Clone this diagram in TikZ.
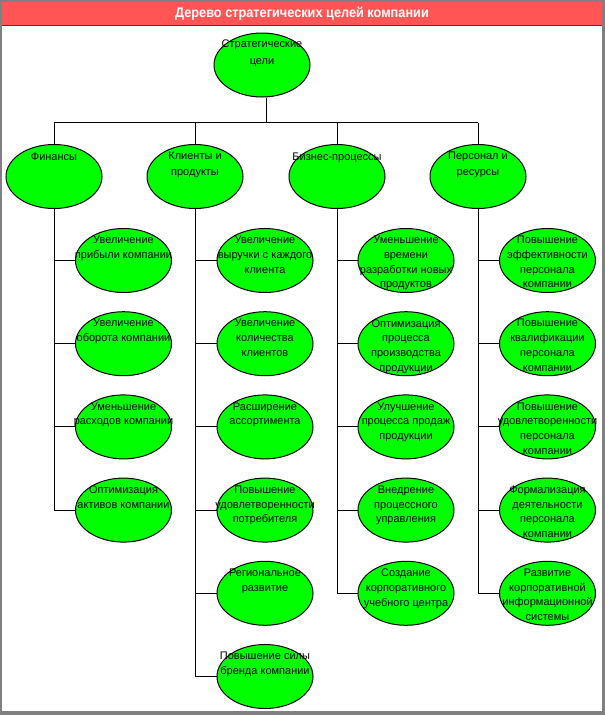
\documentclass[tikz,border=0pt]{standalone}
\usepackage{fontspec}
\setmainfont{Liberation Sans}
\newfontfamily\titlefont[FakeStretch=0.91]{Liberation Sans}
\usetikzlibrary{shapes.geometric,calc}
\definecolor{goalgreen}{HTML}{00FF00}
\definecolor{titlered}{HTML}{FF5555}
\definecolor{framegray}{HTML}{808080}
\definecolor{bardark}{HTML}{404040}
\pgfdeclarelayer{background}
\pgfsetlayers{background,main}
\tikzset{
  goal/.style={ellipse, draw=black, line width=1pt, fill=goalgreen,
    minimum width=96pt, minimum height=64pt, inner sep=0pt},
  goaltext/.style={anchor=north, inner sep=0pt, align=center,
    font=\fontsize{11}{14.7}\selectfont, execute at begin node=\rule{0pt}{8.5pt}},
  headtext/.style={goaltext, font=\fontsize{11}{16.5}\selectfont},
  link/.style={draw=black, line width=1pt},
  titletext/.style={text=white, inner sep=0pt,
    font=\titlefont\bfseries\fontsize{14}{16}\selectfont},
}
\newcommand\goalnode[4]{%
  \node[goal] (#1) at (#2,#3) {};
  \node[goaltext] (#1t) at ($(#1)+(0,-24.5)$) {#4};}
\newcommand\headnode[4]{%
  \node[goal] (#1) at (#2,#3) {};
  \node[headtext] (#1t) at ($(#1)+(0,-25)$) {#4};}
\begin{document}
\begin{tikzpicture}[x=1pt,y=-1pt]
\useasboundingbox (0,0) rectangle (605,715);
\begin{pgfonlayer}{background}
  \fill[framegray] (0,0) rectangle (605,715);
  \fill[white] (2,2) rectangle (602,711);
  \fill[titlered] (2,2) rectangle (602,25);
  \draw[bardark, line width=1pt] (2,25.5) -- (602,25.5);
\end{pgfonlayer}
\node[titletext] (title) at (302,13.5) {Дерево стратегических целей компании};

\headnode{top}{262}{65}{Стратегические\\цели}
\headnode{h1}{54}{176.5}{Финансы}
\headnode{h2}{195}{176.5}{Клиенты и\\продукты}
\headnode{h3}{337}{176.5}{Бизнес-процессы}
\headnode{h4}{478}{176.5}{Персонал и\\ресурсы}

% Finance
\goalnode{f1}{123.5}{260.5}{Увеличение\\прибыли компании}
\goalnode{f2}{123.5}{343.7}{Увеличение\\оборота компании}
\goalnode{f3}{123.5}{426.9}{Уменьшение\\расходов компании}
\goalnode{f4}{123.5}{510.1}{Оптимизация\\активов компании}
% Clients
\goalnode{c1}{265}{260.5}{Увеличение\\выручки с каждого\\клиента}
\goalnode{c2}{265}{343.7}{Увеличение\\количества\\клиентов}
\goalnode{c3}{265}{426.9}{Расширение\\ассортимента}
\goalnode{c4}{265}{510.1}{Повышение\\удовлетворенности\\потребителя}
\goalnode{c5}{265}{593.3}{Региональное\\развитие}
\goalnode{c6}{265}{676.5}{Повышение силы\\бренда компании}
% Business processes
\goalnode{b1}{406}{260.5}{Уменьшение\\времени\\разработки новых\\продуктов}
\goalnode{b2}{406}{343.7}{Оптимизация\\процесса\\производства\\продукции}
\goalnode{b3}{406}{426.9}{Улучшение\\процесса продаж\\продукции}
\goalnode{b4}{406}{510.1}{Внедрение\\процессного\\управления}
\goalnode{b5}{406}{593.3}{Создание\\корпоративного\\учебного центра}
% Personnel
\goalnode{p1}{547.5}{260.5}{Повышение\\эффективности\\персонала\\компании}
\goalnode{p2}{547.5}{343.7}{Повышение\\квалификации\\персонала\\компании}
\goalnode{p3}{547.5}{426.9}{Повышение\\удовлетворенности\\персонала\\компании}
\goalnode{p4}{547.5}{510.1}{Формализация\\деятельности\\персонала\\компании}
\goalnode{p5}{547.5}{593.3}{Развитие\\корпоративной\\информационной\\системы}

\begin{pgfonlayer}{background}
  \coordinate (bus) at (266.7,122.5);
  \draw[link] (top.south -| bus) -- (bus);
  \draw[link] (h1.north |- bus) -- (h4.north |- bus);
  \foreach \h in {h1,h2,h3,h4} {\draw[link] (\h.north) -- (\h.north |- bus);}
  \foreach \c in {f1,f2,f3,f4} {\draw[link] (h1.south) |- (\c.west);}
  \foreach \c in {c1,c2,c3,c4,c5,c6} {\draw[link] (h2.south) |- (\c.west);}
  \foreach \c in {b1,b2,b3,b4,b5} {\draw[link] (h3.south) |- (\c.west);}
  \foreach \c in {p1,p2,p3,p4,p5} {\draw[link] (h4.south) |- (\c.west);}
\end{pgfonlayer}
\end{tikzpicture}
\end{document}
